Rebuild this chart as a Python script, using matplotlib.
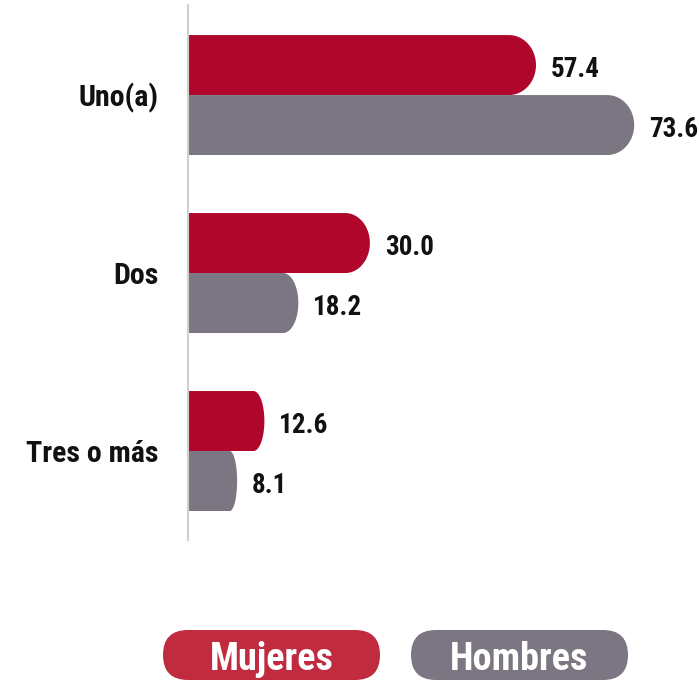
import matplotlib
matplotlib.use("Agg")
import matplotlib.pyplot as plt
from matplotlib.patches import Polygon, FancyBboxPatch
import numpy as np

categories = ["Uno(a)", "Dos", "Tres o más"]
mujeres = [57.4, 30.0, 12.6]
hombres = [73.6, 18.2, 8.1]
series_names = ["Mujeres", "Hombres"]

C_M = "#B0062C"
C_H = "#7B7681"
C_M_LEG = "#C02B40"
FONT = ["Roboto Condensed", "DejaVu Sans"]

W, H = 699, 689
fig = plt.figure(figsize=(W / 100, H / 100), dpi=100)
ax = fig.add_axes([188 / W, 1 - 540 / H, 485 / W, 535 / H])
ax.set_xlim(0, 80)
ax.set_ylim(2.5, -0.506)

bh = 0.337
px_per_unit = 485 / 80.0


def rounded_bar(y0, y1, v, color):
    L = v * px_per_unit
    r_px = min(27.0, 0.13 * L + 1)
    r = r_px / px_per_unit
    cy = (y0 + y1) / 2
    ry = (y1 - y0) / 2
    t = np.linspace(-np.pi / 2, np.pi / 2, 60)
    xs = (v - r) + r * np.cos(t)
    ys = cy + ry * np.sin(t)
    pts = [(0, y0)] + list(zip(xs, ys)) + [(0, y1)]
    ax.add_patch(Polygon(pts, closed=True, facecolor=color, edgecolor="none"))


for i, (m, h) in enumerate(zip(mujeres, hombres)):
    rounded_bar(i - bh, i, m, C_M)
    rounded_bar(i, i + bh, h, C_H)
    ax.text(m + 15 / px_per_unit, i - bh / 2 + 0.025, f"{m:.1f}", va="center", ha="left",
            fontsize=19.5, fontweight="bold", family=FONT, color="#111111")
    ax.text(h + 15 / px_per_unit, i + bh / 2 + 0.025, f"{h:.1f}", va="center", ha="left",
            fontsize=19.5, fontweight="bold", family=FONT, color="#111111")

ax.set_yticks(range(len(categories)))
ax.set_yticklabels(categories, fontsize=21.5, fontweight="bold", family=FONT, color="#111111")
ax.tick_params(axis="y", length=0, pad=21)
ax.set_xticks([])
for s in ["top", "right", "bottom"]:
    ax.spines[s].set_visible(False)
ax.spines["left"].set_color("#D0D0D0")
ax.spines["left"].set_linewidth(1.5)

# legend pills, drawn in a pixel-unit overlay axes
lax = fig.add_axes([0, 0, 1, 1])
lax.set_xlim(0, W)
lax.set_ylim(H, 0)
lax.axis("off")
pill_specs = [(163, 380, C_M_LEG, series_names[0]), (411, 628, C_H, series_names[1])]
for x0, x1, col, name in pill_specs:
    y0, y1 = 630, 680
    box = FancyBboxPatch((x0, y0), x1 - x0, y1 - y0,
                         boxstyle="round,pad=0,rounding_size=25",
                         facecolor=col, edgecolor="none")
    lax.add_patch(box)
    lax.text((x0 + x1) / 2, (y0 + y1) / 2 + 5, name, ha="center", va="center",
             color="white", fontsize=27.5, fontweight="bold", family=FONT)

fig.savefig("out.png", dpi=100)
